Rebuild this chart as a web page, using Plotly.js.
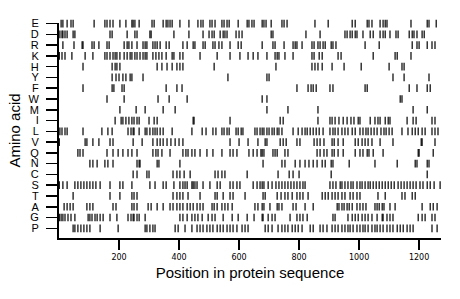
<!DOCTYPE html>
<html>
<head>
<meta charset="utf-8">
<script src="https://cdn.plot.ly/plotly-3.0.1.min.js"></script>
<style>
  html, body { margin: 0; padding: 0; background: #fff; }
  #chart { width: 460px; height: 299px; }
</style>
</head>
<body>
<div id="chart"></div>
<script>
// Amino acids, bottom to top as drawn
const aminoAcids = ['P','G','A','T','S','C','N','Q','V','L','I','M','W','F','Y','H','K','R','D','E'];

// Residue positions of each amino acid in the protein sequence
const posE = [7,13,27,40,47,117,153,160,170,180,203,223,243,247,253,267,310,317,347,357,363,370,377,403,433,463,473,480,503,510,520,543,550,560,567,597,627,633,643,650,677,683,690,707,743,750,760,853,897,977,987,1027,1033,1043,1070,1080,1087,1093,1173,1227,1233,1257];
const posD = [3,10,13,20,27,47,53,170,177,227,253,260,303,307,383,433,480,500,510,517,537,547,553,560,590,600,610,707,713,823,870,953,960,970,977,987,993,1013,1037,1047,1070,1080,1087,1103,1123,1130,1167,1177,1183,1193,1210,1217];
const posR = [13,50,77,80,110,117,133,160,167,217,227,233,243,260,280,287,293,313,320,327,337,357,367,413,427,447,453,480,487,513,520,533,543,570,597,607,677,713,720,750,780,787,793,810,843,850,863,870,880,887,907,913,923,1020,1067,1177,1193,1200,1227,1243,1253];
const posK = [1,10,20,43,87,113,153,160,170,180,187,193,203,217,227,237,243,253,260,270,280,287,293,313,323,333,343,357,377,383,403,413,470,527,570,603,630,647,663,693,720,727,733,753,780,843,850,867,877,930,940,1047,1120,1127,1173];
const posH = [80,177,187,193,203,327,343,360,377,393,403,413,517,723,843,853,863,877,910,950,1007,1100,1143,1150];
const posY = [177,190,200,213,223,237,243,280,563,693,700,1113,1150,1233];
const posF = [80,177,183,210,217,357,393,410,793,830,840,847,857,903,913,1020,1027,1167,1193,1227,1237];
const posW = [160,217,330,367,427,677,693,1137,1143];
const posM = [203,257,287,347,387,693,763,863,1180,1227];
const posI = [187,207,213,223,233,243,250,260,267,300,317,327,447,450,570,737,747,863,903,910,920,933,947,960,973,983,997,1003,1037,1053,1063,1070,1087,1097,1103,1160,1180,1190,1243,1253];
const posL = [3,10,20,27,80,143,163,177,230,240,247,250,267,287,293,303,313,320,327,337,347,377,443,477,490,513,523,543,550,560,567,590,597,607,613,653,660,670,677,683,693,700,710,717,727,733,743,780,797,810,820,827,837,847,857,867,880,903,913,920,930,943,953,963,977,987,1003,1013,1023,1030,1040,1050,1060,1073,1083,1090,1100,1110,1143,1163,1177,1187,1197,1210,1220,1243,1253,1263];
const posV = [1,87,93,113,133,170,180,247,277,313,327,337,347,360,373,387,400,413,570,600,630,663,687,693,737,747,757,793,803,850,860,870,883,910,917,930,947,987,997,1010,1020,1030,1043,1070,1113,1207,1210,1253];
const posQ = [63,70,80,160,180,197,213,230,243,260,313,323,330,343,370,413,423,430,443,453,470,493,513,543,570,580,593,633,647,660,673,677,683,713,720,727,753,763,860,870,883,893,910,917,930,947,987,1003,1013,1027,1033,1047,1080,1197,1200,1247];
const posN = [103,113,127,153,163,180,260,267,270,327,333,403,680,743,753,787,803,820,833,847,860,877,887,907,913,967,1053,1127,1187,1193,1227,1233];
const posC = [247,260,293,300,380,393,403,417,437,520,530,543,553,627,730,767,780,800,907,1227];
const posS = [1,13,27,53,63,73,83,93,103,113,123,137,170,203,213,243,303,320,347,357,383,403,413,420,427,443,447,453,460,480,503,527,537,570,580,593,603,647,660,670,677,683,697,710,723,733,743,753,763,773,783,793,803,813,820,903,913,923,937,943,953,963,973,980,993,1003,1010,1020,1030,1037,1047,1057,1067,1077,1087,1097,1107,1117,1130,1140,1150,1160,1170,1180,1190,1203,1213,1227,1237,1250,1270];
const posT = [47,170,203,243,250,260,380,393,403,413,430,470,520,527,547,570,580,620,680,687,727,740,753,763,777,793,803,813,830,877,887,897,910,920,930,943,953,970,980,993,1003,1063,1087,1143,1153,1177,1187];
const posA = [17,27,37,47,93,103,113,180,190,243,250,260,297,307,327,347,370,380,393,403,413,427,437,447,460,470,480,510,517,527,543,553,563,577,653,663,677,683,703,727,733,743,780,790,820,847,927,933,943,950,960,967,977,993,1003,1013,1023,1053,1060,1067,1077,1083,1103,1120,1210,1237,1247,1260];
const posG = [1,7,13,20,30,40,53,97,103,110,120,127,137,147,170,193,230,240,247,250,260,267,287,403,413,427,443,453,463,477,497,510,520,547,577,597,627,650,677,680,697,710,720,770,793,803,813,827,913,920,963,977,987,997,1010,1020,1030,1043,1060,1077,1080,1093,1103,1113,1197,1210,1220,1243,1253];
const posP = [47,53,63,73,83,93,103,137,197,287,293,303,313,320,387,397,420,443,460,470,480,493,503,513,527,537,547,560,570,580,593,610,620,630,687,697,710,730,743,753,763,777,787,797,810,837,847,870,880,893,910,920,930,943,953,963,970,980,993,1003,1013,1020,1030,1043,1053,1060,1070,1080,1093,1103,1113,1127,1137,1147,1160,1170,1180,1243,1260];

const xTickVals = [200, 400, 600, 800, 1000, 1200];
const xTickText = ['200', '400', '600', '800', '1000', '1200'];
const sequenceLength = 1273;

const positionsByAA = {
  E: posE, D: posD, R: posR, K: posK, H: posH, Y: posY, F: posF, W: posW, M: posM, I: posI,
  L: posL, V: posV, Q: posQ, N: posN, C: posC, S: posS, T: posT, A: posA, G: posG, P: posP
};

const traces = aminoAcids.map(aa => ({
  type: 'scatter',
  mode: 'markers',
  x: positionsByAA[aa],
  y: positionsByAA[aa].map(() => aa),
  cliponaxis: false,
  hoverinfo: 'x+y',
  marker: {
    symbol: 'line-ns',
    size: 5.5,
    color: '#000',
    line: { color: '#000', width: 1.2 }
  },
  showlegend: false
}));

const layout = {
  width: 460,
  height: 299,
  margin: { l: 59, r: 19, t: 23, b: 61, pad: 0 },
  paper_bgcolor: '#fff',
  plot_bgcolor: '#fff',
  font: { family: 'Liberation Sans, Arial, sans-serif', color: '#000' },
  xaxis: {
    range: [0, sequenceLength],
    tickmode: 'array',
    tickvals: xTickVals,
    ticktext: xTickText,
    ticks: 'outside',
    ticklen: 10,
    tickwidth: 1.5,
    tickcolor: '#000',
    showline: true,
    linewidth: 2,
    linecolor: '#000',
    showgrid: false,
    zeroline: false,
    tickfont: { family: 'DejaVu Sans, sans-serif', size: 8, color: '#000' },
    title: { text: 'Position in protein sequence', font: { size: 15, color: '#000' }, standoff: 7 }
  },
  yaxis: {
    type: 'category',
    categoryorder: 'array',
    categoryarray: aminoAcids,
    tickmode: 'array',
    tickvals: aminoAcids,
    ticktext: aminoAcids,
    range: [-0.9, 19.05],
    ticks: 'outside',
    ticklen: 11,
    tickwidth: 1.5,
    tickcolor: '#000',
    showline: true,
    linewidth: 2,
    linecolor: '#000',
    showgrid: false,
    zeroline: false,
    ticklabelstandoff: 5,
    tickfont: { size: 11, color: '#000' },
    title: { text: 'Amino acid', font: { size: 15, color: '#000' }, standoff: 4 }
  }
};

Plotly.newPlot('chart', traces, layout, { staticPlot: true, displayModeBar: false });
</script>
</body>
</html>
